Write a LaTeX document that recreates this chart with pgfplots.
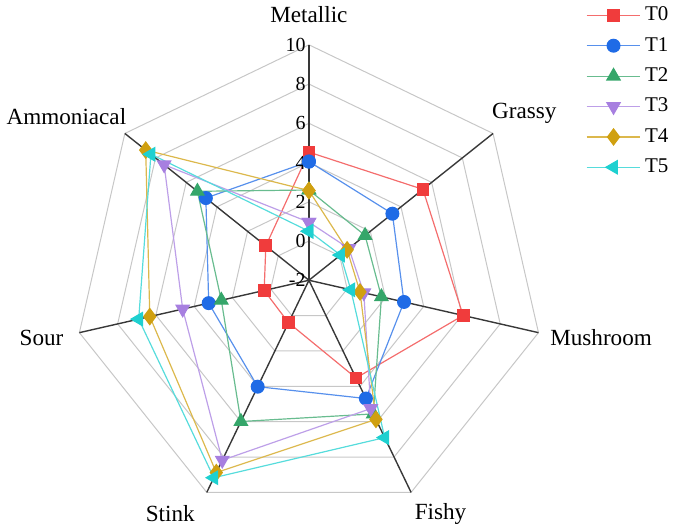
\documentclass[border=0pt]{standalone}
\usepackage{fontspec}
\setmainfont{Liberation Serif}
\usepackage{pgfplots}
\usepackage{pgfplotstable}
\pgfplotsset{compat=1.18}

\definecolor{cT0}{HTML}{F03C3C}
\definecolor{cT1}{HTML}{1F6BE6}
\definecolor{cT2}{HTML}{35A66A}
\definecolor{cT3}{HTML}{A77FE0}
\definecolor{cT4}{HTML}{D0A010}
\definecolor{cT5}{HTML}{1ED0D0}

% sensory scores; last row repeats Metallic to close the polygons
\pgfplotstableread{
attr       ang       T0    T1    T2    T3    T4    T5
Metallic   90        4.53  4.05  2.60  0.96  2.57  0.50
Grassy     38.5714   5.43  3.44  1.66  0.60  0.49  0.06
Mushroom   -12.8571  6.06  2.97  1.79  0.87  0.67  0.19
Fishy      -64.2857  3.53  4.69  5.56  5.26  5.87  6.90
Stink      -115.7143 0.40  4.02  5.99  8.18  8.88  9.17
Sour       -167.1429 0.34  3.24  2.58  4.60  6.32  6.90
Ammoniacal -218.5714 0.81  4.72  5.27  7.44  8.64  8.30
Metallic   -270      4.53  4.05  2.60  0.96  2.57  0.50
}\scores

\tikzset{lbl/.style={font=\fontsize{11.6}{13}\selectfont},
  rtick/.style={anchor=east, inner sep=0pt, font=\fontsize{10}{12}\selectfont}}

\begin{document}
\begin{tikzpicture}
\begin{axis}[
    x=9.835pt, y=9.835pt,
    xmin=-12, xmax=12, ymin=-12, ymax=12,
    hide axis, clip=false,
    legend cell align=left,
    legend style={draw=none, fill=none, inner sep=0pt, at={(axis cs:14.1,14.16)}, anchor=north west,
        font=\fontsize{10.5}{12}\selectfont, row sep=2.8pt},
    legend image code/.code={\draw[mark repeat=2,mark phase=2,#1]
        plot coordinates {(0pt,0pt)(13.5pt,0pt)(27pt,0pt)};},
]
% grid heptagons (values 0..10, centre is -2)
\pgfplotsinvokeforeach{2,4,6,8,10,12}{
  \addplot[forget plot, data cs=polar, draw=black!22, line width=0.5pt] coordinates
    {(90,#1)(38.5714,#1)(-12.8571,#1)(-64.2857,#1)(-115.7143,#1)(-167.1429,#1)(-218.5714,#1)(-270,#1)};
}
% spokes
\pgfplotsinvokeforeach{90,38.5714,-12.8571,-64.2857,-115.7143,-167.1429,-218.5714}{
  \addplot[forget plot, data cs=polar, draw=black!78, line width=0.7pt] coordinates {(#1,0)(#1,12)};
}

\addplot[data cs=polar, cT0!75, line width=0.6pt, mark=square*, mark size=2.9pt,
  mark options={fill=cT0, draw=cT0}] table[x=ang, y expr=\thisrow{T0}+2] {\scores};
\addlegendentry{T0}
\addplot[data cs=polar, cT1!75, line width=0.6pt, mark=*, mark size=3.2pt,
  mark options={fill=cT1, draw=cT1}] table[x=ang, y expr=\thisrow{T1}+2] {\scores};
\addlegendentry{T1}
\addplot[data cs=polar, cT2!75, line width=0.6pt, mark=triangle*, mark size=3.8pt,
  mark options={fill=cT2, draw=cT2}] table[x=ang, y expr=\thisrow{T2}+2] {\scores};
\addlegendentry{T2}
\addplot[data cs=polar, cT3!75, line width=0.6pt, mark=triangle*, mark size=3.8pt,
  mark options={fill=cT3, draw=cT3, rotate=180}] table[x=ang, y expr=\thisrow{T3}+2] {\scores};
\addlegendentry{T3}
\addplot[data cs=polar, cT4!75, line width=0.6pt, mark=diamond*, mark size=4pt,
  mark options={fill=cT4, draw=cT4}] table[x=ang, y expr=\thisrow{T4}+2] {\scores};
\addlegendentry{T4}
\addplot[data cs=polar, cT5!75, line width=0.6pt, mark=triangle*, mark size=3.8pt,
  mark options={fill=cT5, draw=cT5, rotate=90}] table[x=ang, y expr=\thisrow{T5}+2] {\scores};
\addlegendentry{T5}

% radial tick labels
\node[rtick] at (axis cs:-0.15,12) {10};
\node[rtick] at (axis cs:-0.15,10) {8};
\node[rtick] at (axis cs:-0.15,8) {6};
\node[rtick] at (axis cs:-0.15,6) {4};
\node[rtick] at (axis cs:-0.15,4) {2};
\node[rtick] at (axis cs:-0.15,2) {0};
\node[rtick] at (axis cs:-0.15,0) {-2};

% category labels
\node[lbl] at (axis cs:0,13.53) {Metallic};
\node[lbl] at (axis cs:10.98,8.49) {Grassy};
\node[lbl] at (axis cs:14.89,-2.94) {Mushroom};
\node[lbl] at (axis cs:6.71,-11.9) {Fishy};
\node[lbl] at (axis cs:-7.07,-11.9) {Stink};
\node[lbl] at (axis cs:-13.63,-2.94) {Sour};
\node[lbl] at (axis cs:-12.36,8.34) {Ammoniacal};

\path (axis cs:-15.66,-12.51) rectangle (axis cs:18.86,14.18);
\end{axis}
\end{tikzpicture}
\end{document}
